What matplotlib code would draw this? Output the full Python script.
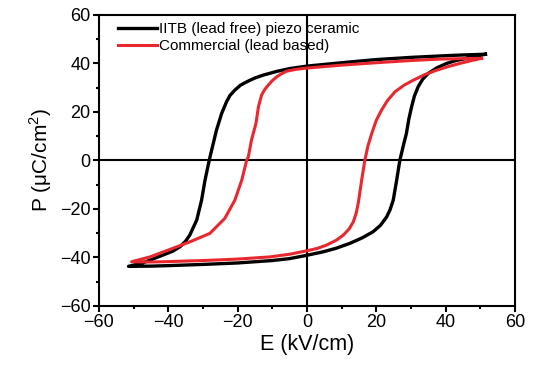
import matplotlib
matplotlib.use("Agg")
import matplotlib.pyplot as plt
from matplotlib.ticker import MultipleLocator

plt.rcParams['font.family'] = ['Liberation Sans', 'DejaVu Sans']
plt.rcParams['mathtext.fontset'] = 'custom'
plt.rcParams['mathtext.rm'] = 'Liberation Sans'

# IITB (lead free) loop: upper branch (E decreasing) then lower branch (E increasing)
iitb_up_E = [51.5, 45, 40, 30, 20, 10, 0, -4.9, -8.5, -12.6, -15, -17.4, -19.2, -20.8, -22.2, -23.2,
             -24.6, -26.1, -27.5, -28.2, -29.4, -30.4, -31.8, -33.8, -35, -36.6, -38.8, -41.5, -47.2, -51.5]
iitb_up_P = [43.8, 43.5, 43.2, 42.5, 41.6, 40.3, 38.9, 37.9, 36.8, 35.2, 34, 32.4, 31, 29, 26.8, 24.2,
             19.4, 12.5, 4.2, 0, -8.1, -16.4, -24.6, -30.8, -33.3, -35.6, -37.5, -39, -42.2, -43.7]
iitb_lo_E = [-51.5, -45, -40, -30, -20, -10, -5, -0.6, 4.7, 8.5, 12.4, 16, 19.1, 21.2, 23, 24, 24.9,
             25.9, 26.8, 27.8, 28.7, 29.4, 30.2, 31, 32.1, 33.4, 35, 37.5, 40.3, 43, 46.1, 49, 51.5]
iitb_lo_P = [-43.7, -43.6, -43.4, -42.9, -42.3, -41.3, -40.5, -39.3, -37.7, -36.2, -34.2, -31.9, -29.4, -26.8, -23.3, -20.3, -16.4,
             -8.1, 0, 6, 11.1, 17, 22.1, 26.5, 30.4, 33.5, 35.9, 38.2, 40, 41.2, 42.1, 43, 43.8]

# Commercial (lead based) loop
com_up_E = [50.4, 45, 38.4, 30, 20, 10, 0, -3, -5.9, -7.5, -8.7, -10, -11.2, -12.2, -13.1, -14, -14.7,
            -16, -16.9, -17.4, -18.8, -20.8, -23.7, -28, -33.8, -39.5, -45.3, -50.6]
com_up_P = [42.1, 42, 41.8, 41.2, 40.3, 39.3, 38.1, 37.6, 36.8, 35.6, 34.5, 32.9, 31, 29.2, 26.9, 22.1, 15.3,
            8.4, 1.5, 0, -8.1, -16.4, -23.9, -30.1, -33.6, -36.7, -39.8, -41.8]
com_lo_E = [-50.6, -45, -41.5, -30, -20, -10.7, -5, -0.1, 3, 5.7, 8.5, 10.5, 12.2, 13.4, 14.2, 14.8, 15.8,
            16.7, 17.6, 18.7, 20, 21.5, 23.3, 25.4, 28, 30.7, 34, 37.4, 40.7, 44.1, 47.5, 50.4]
com_lo_P = [-41.8, -41.9, -41.8, -41.3, -40.7, -39.8, -38.7, -37.3, -36.3, -34.9, -32.9, -30.8, -28.2, -25.3, -21.8, -17.7, -8.1,
            0, 6, 11.1, 16.5, 20.7, 24.8, 28.3, 31, 33.1, 35.4, 37.2, 38.7, 40, 41.2, 42.1]

labels = ["IITB (lead free) piezo ceramic", "Commercial (lead based)"]
colors = ["black", "#e8282e"]

fig = plt.figure(figsize=(5.38, 3.65), dpi=100)
ax = fig.add_axes([0.184, 0.162, 0.773, 0.797])

ax.axhline(0, color='black', lw=1.5, zorder=1)
ax.axvline(0, color='black', lw=1.5, zorder=1)

ax.plot(iitb_up_E + iitb_lo_E, iitb_up_P + iitb_lo_P, color=colors[0], lw=2.4,
        label=labels[0], zorder=2, solid_joinstyle='round')
ax.plot(com_up_E + com_lo_E, com_up_P + com_lo_P, color=colors[1], lw=2.2,
        label=labels[1], zorder=3, solid_joinstyle='round')

ax.set_xlim(-60, 60)
ax.set_ylim(-60, 60)
ax.xaxis.set_major_locator(MultipleLocator(20))
ax.xaxis.set_minor_locator(MultipleLocator(10))
ax.yaxis.set_major_locator(MultipleLocator(20))
ax.yaxis.set_minor_locator(MultipleLocator(10))
ax.tick_params(which='major', direction='out', length=4, width=1.5, labelsize=13, pad=2)
ax.tick_params(which='minor', direction='out', length=2.5, width=1.5)
ax.tick_params(top=False, right=False)
for s in ax.spines.values():
    s.set_linewidth(1.5)

ax.set_xlabel("E (kV/cm)", fontsize=15.5, labelpad=2)
ax.set_ylabel("P (μC/cm$^2$)", fontsize=15, labelpad=4)

ax.legend(loc='upper left', bbox_to_anchor=(0.031, 0.997), frameon=False, fontsize=11,
          handlelength=2.55, handletextpad=0.13, borderaxespad=0, borderpad=0.4,
          labelspacing=0.2)

fig.savefig("out.png", dpi=100)
